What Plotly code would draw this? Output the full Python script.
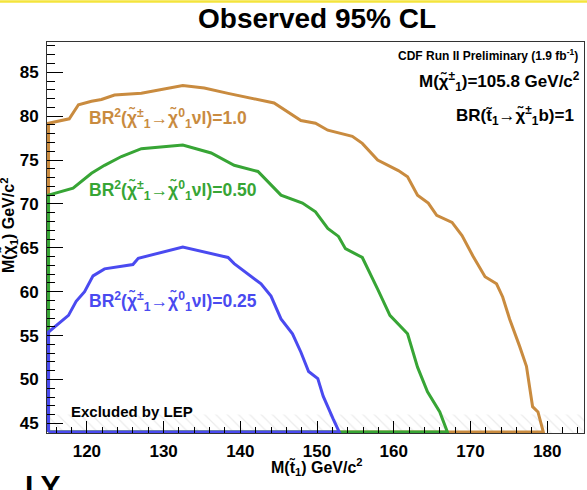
import plotly.graph_objects as go

# ---- data (stop mass, neutralino mass) ----
stop_br100 = [115.0, 115.0, 117.7, 118.9, 120.6, 121.9, 123.6, 127.1, 132.5, 135.3, 138.4, 144.4,
              147.9, 149.8, 151.4, 154.6, 155.9, 157.9, 160.6, 161.8, 163.1, 164.5, 165.6, 167.6,
              168.9, 170.3, 171.9, 173.4, 174.2, 175.1, 176.4, 177.3, 178.1, 178.8, 179.5, 115.0]
chi0_br100 = [44.0, 79.2, 79.7, 81.3, 81.7, 81.9, 82.4, 82.6, 83.5, 83.2, 82.6, 81.5,
              79.5, 79.2, 78.4, 77.7, 76.9, 75.0, 73.8, 73.1, 71.0, 70.1, 68.7, 67.9,
              66.4, 64.1, 61.7, 60.9, 59.4, 56.9, 53.8, 51.5, 46.9, 46.3, 44.0, 44.0]

stop_br050 = [115.0, 115.0, 118.2, 120.6, 122.3, 124.5, 127.1, 132.5, 136.2, 139.2, 142.3, 145.3,
              148.1, 149.8, 151.4, 152.8, 153.7, 155.9, 157.9, 159.5, 161.8, 163.1, 164.4, 166.0,
              167.0, 115.0]
chi0_br050 = [44.0, 71.0, 71.8, 73.5, 74.4, 75.4, 76.3, 76.7, 75.8, 74.4, 73.7, 71.0,
              70.1, 69.1, 67.2, 66.3, 64.9, 63.9, 60.3, 57.3, 55.2, 51.4, 48.6, 46.3,
              44.0, 44.0]

stop_br025 = [115.0, 115.0, 117.6, 118.6, 119.7, 120.8, 122.3, 126.0, 126.7, 132.5, 138.4, 139.2,
              142.7, 144.0, 145.3, 146.8, 147.9, 148.9, 150.1, 150.8, 152.1, 152.9, 115.0]
chi0_br025 = [44.0, 55.4, 57.3, 58.9, 60.0, 61.8, 62.6, 63.1, 63.8, 65.1, 63.9, 63.2,
              60.9, 59.5, 56.9, 55.2, 53.1, 50.9, 50.1, 48.1, 45.5, 44.0, 44.0]

lep_stop = [114.8, 184.8, 184.8, 114.8]
lep_chi0 = [43.9, 43.9, 46.0, 46.0]

x_ticks = [120, 130, 140, 150, 160, 170, 180]
y_ticks = [45, 50, 55, 60, 65, 70, 75, 80, 85]

ORANGE = "#c98b3f"
GREEN = "#37a535"
BLUE = "#4a4af0"
FONT = "Liberation Sans, Arial, sans-serif"
CHI = "χ\u0303"

fig = go.Figure()
fig.add_trace(go.Scatter(x=lep_stop, y=lep_chi0, fill="toself", mode="none",
                         fillcolor="rgba(0,0,0,0)",
                         fillpattern=dict(shape="\\", fgcolor="#d8d8d8", bgcolor="white",
                                          size=8, solidity=0.15),
                         hoverinfo="skip", showlegend=False))
for xs, ys, col in [(stop_br100, chi0_br100, ORANGE),
                    (stop_br050, chi0_br050, GREEN),
                    (stop_br025, chi0_br025, BLUE)]:
    fig.add_trace(go.Scatter(x=xs, y=ys, mode="lines", line=dict(color=col, width=3),
                             showlegend=False, hoverinfo="skip"))

bold = lambda size, color="black": dict(family=FONT, size=size, color=color, weight="bold")

ann = []
lbl = "BR<sup>2</sup>(" + CHI + "<sup>±</sup><sub>1</sub>→" + CHI + "<sup>0</sup><sub>1</sub>νl)="
for val, yv, col in [("1.0", 79.7, ORANGE), ("0.50", 71.5, GREEN), ("0.25", 58.9, BLUE)]:
    ann.append(dict(x=120.0, y=yv, xref="x", yref="y", text=lbl + val, showarrow=False,
                    xanchor="left", yanchor="middle", font=bold(17.5, col)))
ann.append(dict(x=117.7, y=46.3, xref="x", yref="y", text="Excluded by LEP", showarrow=False,
                xanchor="left", yanchor="middle", font=bold(15)))
ann.append(dict(x=0.9926, y=0.967, xref="paper", yref="paper",
                text="CDF Run II Preliminary (1.9 fb<sup>-1</sup>)", showarrow=False,
                xanchor="right", yanchor="middle", font=bold(12)))
ann.append(dict(x=0.996, y=0.898, xref="paper", yref="paper",
                text="M(" + CHI + "<sup>±</sup><sub>1</sub>)=105.8 GeV/c<sup>2</sup>", showarrow=False,
                xanchor="right", yanchor="middle", font=bold(17)))
ann.append(dict(x=0.985, y=0.811, xref="paper", yref="paper",
                text="BR(t\u0303<sub>1</sub>→" + CHI + "<sup>±</sup><sub>1</sub>b)=1", showarrow=False,
                xanchor="right", yanchor="middle", font=bold(17)))
ann.append(dict(x=0.503, y=1.061, xref="paper", yref="paper", text="Observed 95% CL",
                showarrow=False, xanchor="center", yanchor="middle", font=bold(28)))
ann.append(dict(x=0.503, y=-0.086, xref="paper", yref="paper",
                text="M(t\u0303<sub>1</sub>) GeV/c<sup>2</sup>", showarrow=False,
                xanchor="center", yanchor="middle", font=bold(16)))
ann.append(dict(x=-0.072, y=0.53, xref="paper", yref="paper",
                text="M(" + CHI + "<sub>1</sub>) GeV/c<sup>2</sup>", showarrow=False, textangle=-90,
                xanchor="center", yanchor="middle", font=bold(16)))
ann.append(dict(x=-0.045, y=-0.088, xref="paper", yref="paper", text="LY", showarrow=False,
                xanchor="left", yanchor="top", font=bold(30)))

fig.update_layout(
    width=587, height=490,
    margin=dict(l=47, r=3, t=42, b=57),
    paper_bgcolor="white", plot_bgcolor="white",
    annotations=ann,
    shapes=[dict(type="line", xref="paper", yref="paper", x0=-0.1, x1=1.1,
                 y0=1.1035, y1=1.1035, line=dict(color="#f4e43c", width=2.5))],
    xaxis=dict(range=[114.8, 184.8], tickvals=x_ticks, ticks="inside", ticklen=12,
               tickcolor="black", showline=True, mirror=True, linecolor="#333333",
               linewidth=1, showgrid=False, zeroline=False, tickfont=bold(17),
               ticklabelstandoff=3,
               minor=dict(dtick=2, ticks="inside", ticklen=6, tickcolor="black", showgrid=False)),
    yaxis=dict(range=[43.9, 88.45], tickvals=y_ticks, ticks="inside", ticklen=16,
               tickcolor="black", showline=True, mirror=True, linecolor="#333333",
               linewidth=1, showgrid=False, zeroline=False, tickfont=bold(17),
               ticklabelstandoff=4,
               minor=dict(dtick=1, ticks="inside", ticklen=8, tickcolor="black", showgrid=False)),
)

fig.write_html("out.html", config={"displayModeBar": False},
               post_script="document.body.style.margin='0';document.body.style.overflow='hidden';")
